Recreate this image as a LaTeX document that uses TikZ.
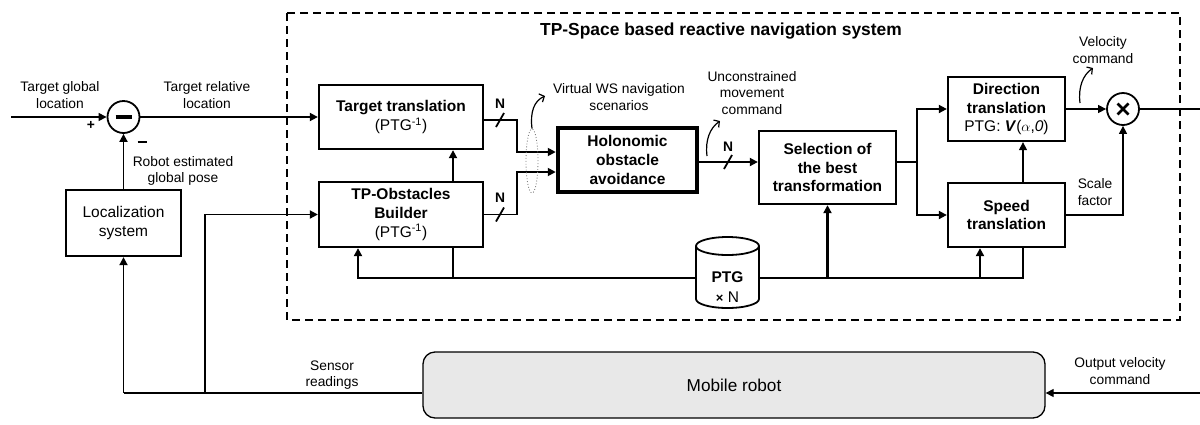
\documentclass[tikz,border=0pt]{standalone}
\usepackage{fontspec}
\setmainfont{Liberation Sans}
\usetikzlibrary{arrows.meta,shapes.geometric,calc}
\newcommand\lblfont{\fontsize{13.8}{16.5}\selectfont}
\newcommand\boxfont{\fontsize{15.5}{18.7}\selectfont}
\newcommand\titlefont{\fontsize{17.4}{20}\selectfont\bfseries}
\begin{document}
\begin{tikzpicture}[x=1pt,y=-1pt,
  tip/.tip={Triangle[length=8pt,width=8pt]},
  blk/.style={draw, line width=2.3pt, align=center, font=\boxfont, inner sep=0pt, fill=white},
  conn/.style={line width=1.8pt, -tip},
  plain/.style={line width=1.8pt},
  thinc/.style={line width=1.2pt},
  bus/.style={line width=2.6pt},
  ann/.style={line width=1.2pt, -{Straight Barb[length=4pt,width=9pt]}},
  lbl/.style={align=center, font=\lblfont, inner sep=0pt},
  nlbl/.style={font=\lblfont\bfseries, inner sep=0pt},
  junc/.style={circle, draw, line width=1.8pt, minimum size=32pt, inner sep=0pt, fill=white},
  dashbox/.style={line width=2.4pt, dash pattern=on 8pt off 5pt}
]
\useasboundingbox (0,0) rectangle (1200,424);

% ---- enclosing frame of the navigation system
\draw[dashbox] (287,13) rectangle (1180,320);
\node[font=\titlefont, inner sep=0pt] (title) at (721,31) {TP-Space based reactive navigation system};

% ---- blocks
\node[blk, minimum width=164pt, minimum height=64pt] (tt) at (401,117)
  {\textbf{Target translation}\\(PTG\textsuperscript{-1})};
\node[blk, minimum width=164pt, minimum height=65pt] (tpo) at (401,214.5)
  {\textbf{TP-Obstacles}\\\textbf{Builder}\\(PTG\textsuperscript{-1})};
\node[blk, line width=4.5pt, minimum width=139pt, minimum height=64pt, font=\boxfont\bfseries] (hol) at (627.5,160)
  {Holonomic\\obstacle\\avoidance};
\node[blk, minimum width=137pt, minimum height=73pt, font=\boxfont\bfseries] (sel) at (827.5,167.5)
  {Selection of\\the best\\transformation};
\node[blk, minimum width=117pt, minimum height=64pt] (dir) at (1006.5,109)
  {\textbf{Direction}\\\textbf{translation}\\PTG: \textbf{\textit{V}}(\textit{$\alpha$},\textit{0})};
\node[blk, minimum width=117pt, minimum height=64pt, font=\boxfont\bfseries] (spd) at (1006.5,215)
  {Speed\\translation};
\node[blk, minimum width=115pt, minimum height=66pt] (loc) at (123.5,223)
  {Localization\\system};
\node[draw, line width=1.3pt, rounded corners=12pt, fill=black!9, minimum width=622pt, minimum height=66pt,
  font=\fontsize{17.2}{20}\selectfont] (rob) at (734,385) {Mobile robot};

% ---- summing and product junctions
\node[junc] (sum) at (123.5,117) {\rule{16pt}{3.5pt}};
\node[junc] (mul) at (1123,109) {};
\draw[line width=2.6pt] ($(mul)+(-5.5,-5.5)$) -- ($(mul)+(5.5,5.5)$);
\draw[line width=2.6pt] ($(mul)+(-5.5,5.5)$) -- ($(mul)+(5.5,-5.5)$);

% ---- free ends of the signal lines
\coordinate (tgin) at (11,117);
\coordinate (vout) at (1200,109);
\coordinate (rin) at (1200,393);
\coordinate (sr) at (205,393);
\coordinate (J) at (917,162);
\coordinate (bL) at (358,278);
\coordinate (bR) at (1023,278);

% ---- left feedback loop
\draw[thinc,-tip] (tgin) -- (sum.west);
\draw[conn] (sum.east) -- (tt.west);
\draw[conn] (loc.north) -- (sum.south);
\draw[plain] (rob.west |- rin) -- (loc.south |- rin);
\draw[conn] (loc.south |- rin) -- (loc.south);
\draw[conn] (sr) |- (tpo.west);

% ---- target translation / obstacles builder
\draw[conn] (tpo.north -| 453,0) -- (tt.south -| 453,0);
\draw[conn] (tt.east |- 0,120) -- (517,120) -- (517,152) -- (hol.west |- 0,152);
\draw[conn] (tpo.east) -- (517,214.5) -- (517,172) -- (hol.west |- 0,172);
\draw[plain] (496,127) -- (504,113);
\draw[plain] (496,221.5) -- (504,207.5);
\node[nlbl] (n1) at (500,104) {N};
\node[nlbl] (n2) at (500,198) {N};

% ---- PTG bus
\draw[bus] (tpo.south -| 453,0) -- (453,278);
\draw[bus,-tip] (bR |- spd.south) -- (bR) -- (bL) -- (bL |- tpo.south);
\draw[bus,-tip] (sel.south |- bL) -- (sel.south);
\draw[bus,-tip] (980,278) -- (spd.south -| 980,0);

% PTG storage
\filldraw[fill=white, line width=1.8pt] (696,246) -- (696,299)
  arc[start angle=180, end angle=0, x radius=31.5, y radius=9] -- (759,246)
  arc[start angle=0, end angle=-180, x radius=31.5, y radius=9] -- cycle;
\draw[line width=1.8pt] (696,246) arc[start angle=180, end angle=0, x radius=31.5, y radius=9];
\node[align=center, font=\boxfont, inner sep=0pt] (ptg) at (727.5,287)
  {\textbf{PTG}\\[1pt]{\fontsize{13}{13}\selectfont\bfseries×} N};

% ---- avoidance and selection
\draw[conn] (hol.east |- 0,162) -- (sel.west |- 0,162);
\draw[plain] (724,169) -- (732,155);
\node[nlbl] (n3) at (728,147) {N};
\draw[bus] (sel.east |- J) -- (J);
\draw[conn] (J) |- (dir.west);
\draw[conn] (J) |- (spd.west);

% ---- velocity composition
\draw[thinc,-tip] (dir.east) -- (mul.west);
\draw[thinc,-tip] (spd.north -| 1023,0) -- (dir.south -| 1023,0);
\draw[thinc,-tip] (spd.east) -| (mul.south);
\draw[thinc] (mul.east) -- (vout);
\draw[thinc,-tip] (rin) -- (rin -| rob.east);

% ---- bundle of virtual scenarios
\node[draw=gray, dotted, line width=0.9pt, ellipse, minimum width=12pt, minimum height=64pt, inner sep=0pt] (vws) at (532,161) {};
\coordinate (vwsend) at (545,96);
\draw[ann] (vws.north) .. controls (530,112) and (534,101) .. (vwsend);
\coordinate (ucs) at (707,156);
\coordinate (uce) at (720,121);
\draw[ann] (ucs) .. controls (705,140) and (710,128) .. (uce);
\coordinate (vcs) at (1080,103);
\coordinate (vce) at (1093,68);
\draw[ann] (vcs) .. controls (1078,87) and (1083,75) .. (vce);

% ---- labels
\node[lbl] (l1) at (60,95) {Target global\\location};
\node[font=\lblfont\bfseries, inner sep=0pt] (plus) at (91,125) {+};
\node[font=\lblfont\bfseries, inner sep=0pt] (minus) at (142,142) {\rule{9pt}{1.6pt}};
\node[lbl] (l2) at (207,95) {Target relative\\location};
\node[lbl] (l3) at (183,171) {Robot estimated\\global pose};
\node[lbl] (l4) at (619,97) {Virtual WS navigation\\scenarios};
\node[lbl] (l5) at (752,93) {Unconstrained\\movement\\command};
\node[lbl] (l6) at (1103,50) {Velocity\\command};
\node[lbl] (l7) at (1095,192) {Scale\\factor};
\node[lbl] (l8) at (1120,371) {Output velocity\\command};
\node[lbl] (l9) at (332,375) {Sensor\\readings};
\end{tikzpicture}
\end{document}
